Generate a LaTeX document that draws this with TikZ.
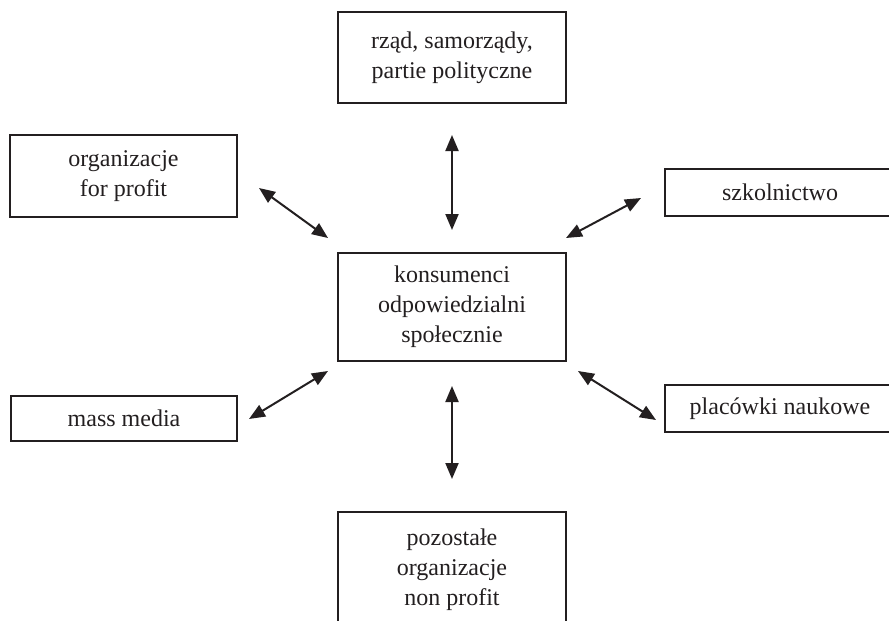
\documentclass[tikz,border=0pt]{standalone}
\usepackage{fontspec}
\setmainfont{Liberation Serif}
\usetikzlibrary{arrows.meta}
\definecolor{ink}{HTML}{231F20}
\begin{document}
\begin{tikzpicture}[x=1pt,y=-1pt,
  box/.style={draw=ink, line width=1.2pt, align=center, inner sep=0pt,
    font=\fontsize{24}{30}\selectfont, text=ink},
  link/.style={draw=ink, line width=2pt,
    {Triangle[length=16pt,width=13pt]}-{Triangle[length=16pt,width=13pt]}}]
\path[use as bounding box] (0,0) rectangle (889,621);
\clip (0,0) rectangle (889,621);
\fill[white] (0,0) rectangle (889,621);
\node[box, minimum width=228pt, minimum height=91pt] (rzad) at (452,57.5) {rząd, samorządy,\\partie polityczne};
\node[box, minimum width=227pt, minimum height=82pt] (forprofit) at (123.5,176) {organizacje\\for profit};
\node[box, minimum width=230pt, minimum height=47pt] (szkol) at (780,192.5) {szkolnictwo};
\node[box, minimum width=228pt, minimum height=108pt] (kons) at (452,307) {konsumenci\\odpowiedzialni\\społecznie};
\node[box, minimum width=226pt, minimum height=45pt] (media) at (124,418.5) {mass media};
\node[box, minimum width=230pt, minimum height=47pt] (plac) at (780,408.5) {placówki naukowe};
\node[box, minimum width=228pt, minimum height=116pt] (pozost) at (452,570) {pozostałe\\organizacje\\non profit};
% arrow end points
\coordinate (t1) at (452,135); \coordinate (t2) at (452,230);
\coordinate (b1) at (452,386); \coordinate (b2) at (452,479);
\coordinate (lt1) at (259,188); \coordinate (lt2) at (328,238);
\coordinate (rt1) at (641,198); \coordinate (rt2) at (566,238);
\coordinate (lb1) at (249,419); \coordinate (lb2) at (328,371);
\coordinate (rb1) at (656,420); \coordinate (rb2) at (578,371);
\draw[link] (t1) -- (t2);
\draw[link] (b1) -- (b2);
\draw[link] (lt1) -- (lt2);
\draw[link] (rt1) -- (rt2);
\draw[link] (lb1) -- (lb2);
\draw[link] (rb1) -- (rb2);
\end{tikzpicture}
\end{document}
